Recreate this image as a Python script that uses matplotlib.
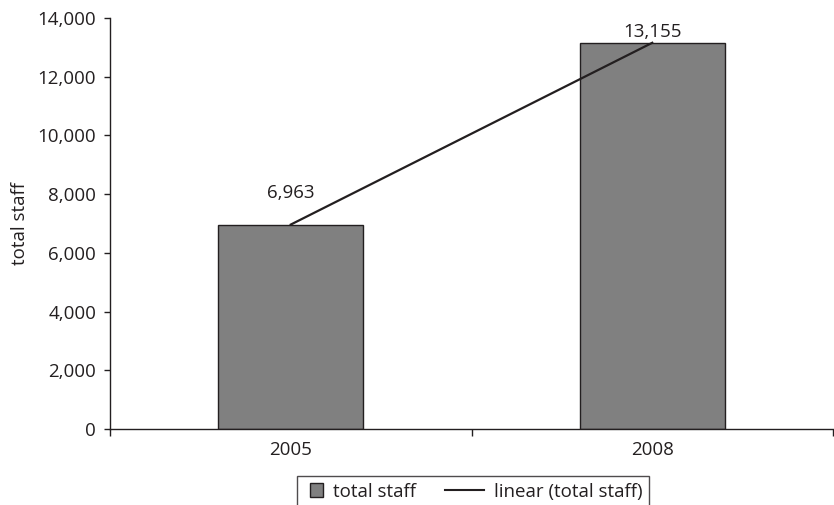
import numpy as np
import matplotlib
matplotlib.use("Agg")
import matplotlib.pyplot as plt
from matplotlib.patches import Patch, Rectangle
from matplotlib.lines import Line2D
from matplotlib.legend_handler import HandlerBase
from matplotlib.ticker import FuncFormatter

years = ["2005", "2008"]
total_staff = [6963, 13155]
y_ticks = [0, 2000, 4000, 6000, 8000, 10000, 12000, 14000]

plt.rcParams['font.family'] = ['Open Sans', 'DejaVu Sans']
txt = '#231f20'
bar_col = '#808080'
fs = 13.5


class SquareHandler(HandlerBase):
    # small square sitting at the right end of the handle box
    def create_artists(self, legend, orig_handle, xdescent, ydescent, width, height, fontsize, trans):
        s = 9.5
        y0 = (height - s) / 2 - ydescent
        r = Rectangle((width - s - xdescent, y0), s, s, facecolor=bar_col,
                      edgecolor=txt, linewidth=1, transform=trans)
        return [r]


class LongLineHandler(HandlerBase):
    # line that reaches further left than the (short) handle box
    def create_artists(self, legend, orig_handle, xdescent, ydescent, width, height, fontsize, trans):
        y = height / 2 - ydescent
        ln = Line2D([width - 28 - xdescent, width - xdescent], [y, y], color=txt,
                    linewidth=1.5, transform=trans)
        return [ln]


fig = plt.figure(figsize=(8.34, 5.05), dpi=100)
ax = fig.add_axes([0.1319, 0.1505, 0.8669, 0.8139])

x = np.arange(len(years))
ax.bar(x, total_staff, width=0.4, color=bar_col, edgecolor=txt, linewidth=1.0, zorder=2)

# linear trend through the two points
coef = np.polyfit(x, total_staff, 1)
ax.plot(x, np.polyval(coef, x), color=txt, linewidth=1.6, zorder=3)

label_offsets = [16, 1]
for xi, v, off in zip(x, total_staff, label_offsets):
    ax.annotate(f"{v:,}", (xi, v), xytext=(0, off), textcoords='offset points',
                ha='center', va='bottom', fontsize=fs, color=txt)

ax.set_xlim(-0.5, 1.5)
ax.set_ylim(0, 14000)
ax.set_yticks(y_ticks)
ax.yaxis.set_major_formatter(FuncFormatter(lambda v, p: f"{int(v):,}"))
ax.set_xticks(x)
ax.set_xticklabels(years)
ax.set_xticks([-0.5, 0.5, 1.5], minor=True)
ax.tick_params(axis='x', which='major', length=0, pad=9, labelsize=fs, labelcolor=txt)
ax.tick_params(axis='x', which='minor', length=5, width=1, color=txt, direction='out')
ax.tick_params(axis='y', length=4.5, width=1, color=txt, labelsize=fs, labelcolor=txt, pad=5.5)
ax.set_ylabel("total staff", fontsize=fs, color=txt, labelpad=6)

for s in ['top', 'right']:
    ax.spines[s].set_visible(False)
for s in ['left', 'bottom']:
    ax.spines[s].set_color(txt)
    ax.spines[s].set_linewidth(1)

h_bar = Patch(facecolor=bar_col, edgecolor=txt)
h_line = Line2D([0], [0], color=txt)
leg = fig.legend([h_bar, h_line], ["total staff", "linear (total staff)"], ncol=2,
                 loc='upper center', bbox_to_anchor=(473 / 834, 1 - 476 / 505),
                 fontsize=fs, frameon=True, fancybox=False, handlelength=1.05,
                 handleheight=0.8, columnspacing=2.6, handletextpad=0.5,
                 borderpad=0.35, borderaxespad=0,
                 handler_map={Patch: SquareHandler(), Line2D: LongLineHandler()})
leg.get_frame().set_edgecolor(txt)
leg.get_frame().set_linewidth(1)
for t in leg.get_texts():
    t.set_color(txt)

fig.savefig("out.png", dpi=100)
